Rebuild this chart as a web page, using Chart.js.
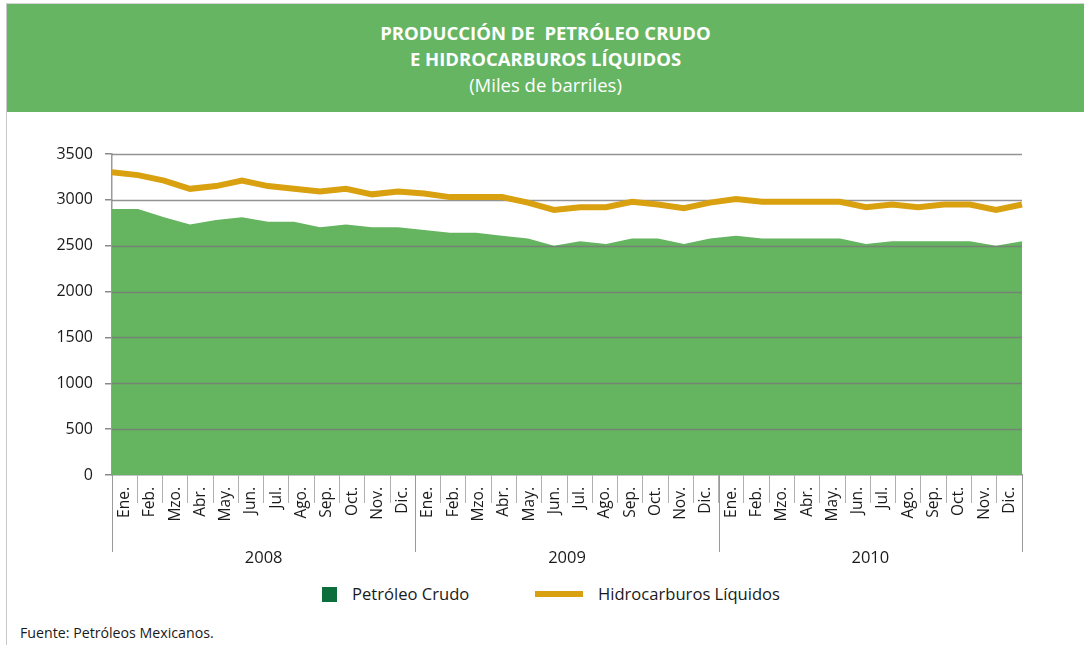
<!DOCTYPE html>
<html lang="es">
<head>
<meta charset="utf-8">
<title>Producción de petróleo crudo e hidrocarburos líquidos</title>
<script src="https://cdn.jsdelivr.net/npm/chart.js@4.4.1/dist/chart.umd.min.js"></script>
<style>
    body {
        margin: 0;
        width: 1084px;
        height: 645px;
        overflow: hidden;
        background: #ffffff;
        font-family: 'Open Sans', sans-serif;
        position: relative;
    }
    .frame {
        position: absolute;
        left: 6px;
        top: 3px;
        right: 0;
        bottom: 0;
        border-left: 1px solid #c8c8c8;
        border-top: 1px solid #d4d4d4;
    }
    .header {
        position: absolute;
        left: 7px;
        top: 4px;
        width: 1077px;
        height: 108px;
        background: #66b563;
        color: #ffffff;
        text-align: center;
        box-sizing: border-box;
        padding-top: 16px;
    }
    .header .t {
        font-weight: bold;
        font-size: 18.5px;
        line-height: 26px;
        white-space: pre;
    }
    .header .s {
        font-size: 18.5px;
        line-height: 26px;
        margin-top: 0px;
    }
    #chartBox {
        position: absolute;
        left: 0;
        top: 112px;
        width: 1084px;
        height: 470px;
    }
    .legend {
        position: absolute;
        top: 582px;
        left: 0;
        width: 1084px;
        height: 24px;
        font-size: 16.6px;
        color: #1a1a1a;
    }
    .legend .sw {
        position: absolute;
    }
    .legend .lbl {
        position: absolute;
        top: 0;
        line-height: 24px;
    }
    .footer {
        position: absolute;
        left: 20px;
        top: 623px;
        font-size: 14.2px;
        color: #1a1a1a;
    }
</style>
</head>
<body>
<div class="frame"></div>
<div class="header">
    <div class="t">PRODUCCIÓN DE  PETRÓLEO CRUDO</div>
    <div class="t">E HIDROCARBUROS LÍQUIDOS</div>
    <div class="s">(Miles de barriles)</div>
</div>
<div id="chartBox"><canvas id="prodChart"></canvas></div>
<div class="legend">
    <div class="sw" style="left:322px; top:5px; width:15px; height:15px; background:#0b6e3b;"></div>
    <div class="lbl" style="left:352px;">Petróleo Crudo</div>
    <div class="sw" style="left:535px; top:9px; width:48px; height:6px; background:#d9a00f;"></div>
    <div class="lbl" style="left:598px;">Hidrocarburos Líquidos</div>
</div>
<div class="footer">Fuente: Petróleos Mexicanos.</div>

<script>
// data, monthly 2008-2010
const years = ['2008', '2009', '2010'];
const monthNames = ['Ene.', 'Feb.', 'Mzo.', 'Abr.', 'May.', 'Jun.', 'Jul.', 'Ago.', 'Sep.', 'Oct.', 'Nov.', 'Dic.'];
const monthLabels = years.flatMap(() => monthNames);

const petroleoCrudo = [
    2900, 2900, 2810, 2730, 2780, 2810, 2760, 2760, 2700, 2730, 2700, 2700,
    2670, 2640, 2640, 2610, 2580, 2500, 2550, 2520, 2580, 2580, 2520, 2580,
    2610, 2580, 2580, 2580, 2580, 2520, 2550, 2550, 2550, 2550, 2500, 2550,
];
const hidrocarburosLiquidos = [
    3300, 3270, 3210, 3120, 3150, 3210, 3150, 3120, 3090, 3120, 3060, 3090,
    3070, 3030, 3030, 3030, 2970, 2890, 2920, 2920, 2980, 2950, 2910, 2970,
    3010, 2980, 2980, 2980, 2980, 2920, 2950, 2920, 2950, 2950, 2890, 2950,
];

Chart.defaults.font.family = "'Open Sans', sans-serif";
Chart.defaults.color = '#1a1a1a';

// horizontal grid drawn over the green area, under the gold line
const gridOverArea = {
    id: 'gridOverArea',
    afterDatasetDraw(chart, args) {
        if (args.index !== 0) return;
        const { ctx, chartArea, scales } = chart;
        const y = scales.y;
        ctx.save();
        ctx.strokeStyle = 'rgba(120, 120, 120, 0.8)';
        ctx.lineWidth = 1.5;
        y.ticks.forEach((t) => {
            if (t.value === 0) return;
            const py = Math.round(y.getPixelForValue(t.value)) + 0.5;
            ctx.beginPath();
            ctx.moveTo(chartArea.left, py);
            ctx.lineTo(chartArea.right, py);
            ctx.stroke();
        });
        ctx.restore();
    },
};

// long separators between the years
const yearSeparators = {
    id: 'yearSeparators',
    afterDraw(chart) {
        const { ctx, chartArea, scales } = chart;
        const ys = scales.years;
        ctx.save();
        ctx.strokeStyle = '#9a9a9a';
        ctx.lineWidth = 1;
        for (let k = 0; k <= years.length; k++) {
            const px = Math.round(ys.getPixelForValue(k - 0.5)) + 0.5;
            ctx.beginPath();
            ctx.moveTo(px, chartArea.bottom);
            ctx.lineTo(px, ys.top + 17);
            ctx.stroke();
        }
        ctx.restore();
    },
};

new Chart(document.getElementById('prodChart'), {
    type: 'line',
    data: {
        labels: monthLabels,
        datasets: [
            {
                label: 'Petróleo Crudo',
                data: petroleoCrudo,
                fill: 'origin',
                backgroundColor: '#64b460',
                borderWidth: 0,
                pointRadius: 0,
                tension: 0,
                order: 1,
            },
            {
                label: 'Hidrocarburos Líquidos',
                data: hidrocarburosLiquidos,
                fill: false,
                borderColor: '#d9a00f',
                borderWidth: 6,
                pointRadius: 0,
                tension: 0,
                order: 0,
            },
        ],
    },
    options: {
        responsive: true,
        maintainAspectRatio: false,
        animation: false,
        layout: {
            padding: { left: 0, right: 62, top: 42, bottom: 17 },
        },
        plugins: {
            legend: { display: false },
            tooltip: { enabled: false },
        },
        scales: {
            x: {
                type: 'category',
                display: false,
                offset: false,
            },
            months: {
                type: 'category',
                labels: monthLabels,
                position: 'bottom',
                offset: true,
                grid: {
                    offset: true,
                    drawOnChartArea: false,
                    tickLength: 28,
                    color: '#b0b0b0',
                    lineWidth: 1,
                },
                border: { display: true, color: '#8a8a8a', width: 1.5 },
                ticks: {
                    autoSkip: false,
                    minRotation: 90,
                    maxRotation: 90,
                    padding: -16,
                    font: { size: 15.5 },
                    color: '#1a1a1a',
                },
                afterFit(scale) {
                    scale.height = 60;
                },
            },
            years: {
                type: 'category',
                labels: years,
                position: 'bottom',
                offset: true,
                grid: { display: false },
                border: { display: false },
                ticks: {
                    padding: 5,
                    font: { size: 16.5 },
                    color: '#1a1a1a',
                },
                afterFit(scale) {
                    scale.height = 30;
                },
            },
            y: {
                min: 0,
                max: 3500,
                ticks: {
                    stepSize: 500,
                    padding: 12,
                    font: { size: 16 },
                    color: '#1a1a1a',
                    callback: (value) => String(value),
                },
                grid: {
                    drawOnChartArea: false,
                    tickLength: 7,
                    color: '#8a8a8a',
                    lineWidth: 1.5,
                },
                border: { display: true, color: '#9a9a9a', width: 1.5 },
                afterFit(scale) {
                    scale.width = 112;
                },
            },
        },
    },
    plugins: [gridOverArea, yearSeparators],
});
</script>
</body>
</html>
